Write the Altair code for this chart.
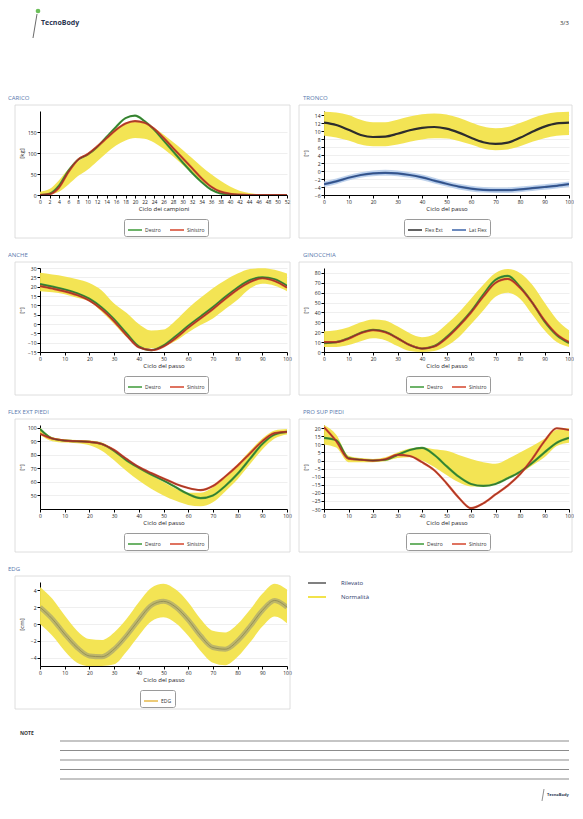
import altair as alt
import pandas as pd

FONT = "Open Sans"
YELLOW = "#f2e34b"
TITLE_COLOR = "#5878ad"
GREEN = "#3d9a37"
RED = "#d5452b"

# ---------------- data ----------------
CARICO_X = list(range(0, 53, 2))
CARICO_DESTRO = [0, 3, 22, 58, 84, 96, 114, 138, 162, 183, 189, 176, 156, 130, 104, 78, 53, 31, 13, 4, 1, 0, 0, 0, 0, 0, 0]
CARICO_SINISTRO = [0, 2, 18, 55, 84, 97, 115, 135, 155, 170, 176, 172, 158, 136, 112, 88, 64, 40, 20, 8, 3, 1, 0, 0, 0, 0, 0]
CARICO_LO = [0, 2, 8, 25, 45, 60, 80, 100, 118, 130, 136, 134, 125, 110, 92, 72, 52, 33, 18, 8, 3, 0, 0, 0, 0, 0, 0]
CARICO_HI = [8, 14, 35, 62, 80, 95, 115, 138, 158, 170, 176, 172, 160, 144, 126, 108, 88, 68, 50, 34, 20, 10, 5, 2, 0, 0, 0]

X100 = list(range(0, 101, 5))

TRONCO_FLEX = [12.1, 11.5, 10.3, 9.0, 8.5, 8.6, 9.3, 10.2, 10.8, 11.0, 10.6, 9.6, 8.3, 7.2, 6.8, 7.1, 8.3, 9.8, 11.1, 11.9, 12.1]
TRONCO_FLEX_LO = [8.8, 8.4, 7.6, 6.6, 6.2, 6.2, 6.6, 7.3, 7.9, 8.2, 8.1, 7.5, 6.6, 5.6, 5.2, 5.4, 6.2, 7.3, 8.2, 8.8, 9.0]
TRONCO_FLEX_HI = [14.8, 14.6, 14.0, 12.8, 12.2, 12.2, 12.8, 13.6, 14.2, 14.4, 14.1, 13.3, 12.1, 11.1, 10.7, 11.0, 12.0, 13.2, 14.2, 14.7, 14.8]
TRONCO_LAT = [-3.3, -2.6, -1.7, -1.0, -0.6, -0.45, -0.6, -1.0, -1.6, -2.4, -3.2, -3.9, -4.4, -4.7, -4.8, -4.8, -4.6, -4.3, -4.0, -3.7, -3.3]
TRONCO_LAT_LO = [-4.0, -3.3, -2.4, -1.7, -1.3, -1.2, -1.3, -1.7, -2.3, -3.1, -3.9, -4.6, -5.1, -5.4, -5.5, -5.5, -5.3, -5.0, -4.7, -4.4, -4.0]
TRONCO_LAT_HI = [-2.6, -1.9, -1.0, -0.3, 0.1, 0.3, 0.1, -0.3, -0.9, -1.7, -2.5, -3.2, -3.7, -4.0, -4.1, -4.1, -3.9, -3.6, -3.3, -3.0, -2.6]

ANCHE_DESTRO = [21.4, 20, 18.5, 16.5, 13.5, 8.8, 2.5, -5, -12, -14, -11.5, -6.5, -1, 4, 9, 14.5, 19.5, 23.5, 25, 24, 20.5]
ANCHE_SINISTRO = [20.3, 19, 17.5, 15.5, 12.5, 7.8, 1.5, -6, -12.5, -14, -12, -7.5, -2, 3, 8, 13.5, 18.5, 22.5, 24.5, 23, 19.5]
ANCHE_LO = [17.6, 17, 16, 14, 12, 6.5, 0, -7, -12, -13, -12, -9, -4.5, -0.5, 3, 8, 13, 19, 21.5, 20.5, 17.6]
ANCHE_HI = [27.4, 26.5, 25.5, 24, 22, 18, 11, 6, 0, -3.5, -3, 2, 8.5, 14, 19.2, 23.5, 27, 29.5, 29.8, 29, 27]

GINO_DESTRO = [9, 10, 14, 19.5, 22.5, 20.5, 14, 7, 3.5, 6, 15, 27, 41, 58, 73, 77, 66, 50, 31, 17, 9]
GINO_SINISTRO = [10, 10, 13.5, 19, 22, 20, 14, 7, 3.5, 5.5, 14, 26, 40, 56, 70, 74, 65, 50, 32, 18, 10]
GINO_LO = [5, 5, 7, 11, 14, 12, 6, 1, 0, 1, 6, 15, 28, 42, 56, 60, 54, 38, 22, 10, 5]
GINO_HI = [21, 22, 25, 30, 33, 32, 26, 19, 15, 18, 28, 40, 54, 68, 80, 84, 80, 68, 50, 33, 22]

FLEX_DESTRO = [99, 92, 90.5, 90, 89.5, 88, 83, 76, 70.5, 65.5, 61, 56, 51, 48, 50, 57, 66, 77, 88, 95, 97]
FLEX_SINISTRO = [95.5, 92, 90.5, 90, 89.5, 88, 83.5, 77, 71, 66.5, 62.5, 58.5, 55.5, 54, 57, 64, 72, 81, 90, 96, 97]
FLEX_LO = [95, 90, 89, 88.5, 87, 83, 76, 68, 61, 55, 50, 46, 43, 42, 45, 53, 62, 73, 84, 92, 95]
FLEX_HI = [100, 93, 91.5, 91, 90.5, 89, 84, 77, 71, 65, 60, 55, 52, 52, 56, 64, 73, 83, 92, 98, 99]

PRO_DESTRO = [14, 12.5, 1.5, 0.5, 0, 0.5, 3.5, 6.5, 7.8, 3.5, -3.5, -10, -14.5, -15.7, -14.5, -11, -7, -1.5, 5, 11, 14]
PRO_SINISTRO = [20.6, 12, 1.2, 0.5, 0, 0.8, 3.5, 2.8, -1, -6, -14, -23, -29.5, -26.5, -21, -15.5, -8.5, 1, 12, 20, 18.9]
PRO_LO = [10, 8, -1, -1, -1, -0.5, 1.5, 2, 0, -4, -9, -13.5, -16, -16, -14, -11, -8, -3, 2, 9, 11]
PRO_HI = [22, 16, 3, 1.5, 1, 2, 5, 7.5, 8, 7, 6, 3.5, 1, -1, -2, 1, 5, 9, 13.5, 19, 20]

EDG = [2.0, 0.6, -1.2, -2.8, -3.8, -3.9, -3.0, -1.4, 0.5, 2.2, 2.7, 2.0, 0.5, -1.4, -2.8, -3.0, -2.0, -0.3, 1.6, 2.8, 2.0]
EDG_LO = [0.0, -1.4, -3.2, -4.6, -5.0, -5.0, -4.8, -3.3, -1.4, 0.3, 0.8, 0.1, -1.4, -3.2, -4.6, -4.9, -3.9, -2.2, -0.3, 0.9, 0.1]
EDG_HI = [4.4, 3.0, 1.0, -0.8, -1.8, -1.9, -1.0, 0.6, 2.6, 4.3, 4.8, 4.1, 2.6, 0.6, -0.8, -1.0, 0.0, 1.7, 3.6, 4.8, 4.1]

LEGENDA_NOMI = ["Rilevato", "Normalità"]
LEGENDA_COLORI = ["#808080", YELLOW]
NOTE_RIGHE = [1, 2, 3, 4, 5]

LEFT_W, RIGHT_W, H = 247, 245, 84
one = pd.DataFrame({"k": [0]})


def header_layers():
    # page header (logo + page number), drawn above the first panel
    return [
        alt.Chart(one).mark_rule(color="#444", strokeWidth=0.8).encode(
            x=alt.value(-3), x2=alt.value(-7), y=alt.value(-97), y2=alt.value(-73)),
        alt.Chart(one).mark_point(filled=True, color="#6cbf5a", size=22, opacity=1).encode(
            x=alt.value(-2), y=alt.value(-100)),
        alt.Chart(one).mark_text(text="TecnoBody", align="left", baseline="middle", fontSize=7,
                                 fontWeight="bold", color="#2a3550", font=FONT).encode(
            x=alt.value(1), y=alt.value(-88)),
        alt.Chart(one).mark_text(text="3/3", align="right", baseline="middle", fontSize=6,
                                 color="#333", font=FONT).encode(x=alt.value(529), y=alt.value(-88)),
    ]


def panel(title, xs, series, bands, ydom, yvals, ytitle, xdom, xvals, width,
          title_dx, legend_x, xtitle="Ciclo del passo", edg=None, extra=None):
    xaxis = alt.Axis(values=xvals, title=xtitle, grid=False, labelFlush=False,
                     labelAngle=0, labelPadding=1, titlePadding=1, tickSize=3)
    yaxis = alt.Axis(values=yvals, title=ytitle, grid=True, minExtent=13,
                     maxExtent=13, titlePadding=3, labelPadding=1, tickSize=3)
    xsc = alt.Scale(domain=xdom, nice=False, zero=False)
    ysc = alt.Scale(domain=ydom, nice=False, zero=False)

    layers = [
        alt.Chart(one).mark_rect(
            fill="white", fillOpacity=0, stroke="#d6d6d6", strokeWidth=0.8
        ).encode(x=alt.value(-25), x2=alt.value(width + 3),
                 y=alt.value(-6), y2=alt.value(127)),
        alt.Chart(one).mark_text(text=title, align="left", baseline="middle", fontSize=6,
                                 color=TITLE_COLOR, font=FONT).encode(
            x=alt.value(title_dx), y=alt.value(-13)),
    ]
    for lo, hi, col in bands:
        bdf = pd.DataFrame({"x": xs, "lo": lo, "hi": hi})
        layers.append(
            alt.Chart(bdf).mark_area(color=col, opacity=0.95, interpolate="monotone", clip=True)
            .encode(x=alt.X("x:Q", scale=xsc, axis=xaxis),
                    y=alt.Y("lo:Q", scale=ysc, axis=yaxis), y2="hi:Q")
        )
    rows = []
    for name, vals, col in series:
        for xv, v in zip(xs, vals):
            rows.append({"x": xv, "v": v, "serie": name})
    ldf = pd.DataFrame(rows)
    names = [s[0] for s in series]
    colors = [s[2] for s in series]
    legend = alt.Legend(orient="none", legendX=legend_x, legendY=108, direction="horizontal",
                        title=None, symbolType="stroke", symbolSize=196, symbolStrokeWidth=1.5,
                        labelFontSize=5, labelFont=FONT, labelColor="#333", strokeColor="#9a9a9a",
                        padding=3, cornerRadius=2, fillColor="white", columnPadding=6,
                        labelOffset=2, symbolOpacity=1)
    if edg is None:
        layers.append(
            alt.Chart(ldf).mark_line(strokeWidth=2.2, interpolate="monotone", clip=True)
            .encode(x=alt.X("x:Q", scale=xsc, axis=xaxis),
                    y=alt.Y("v:Q", scale=ysc, axis=yaxis),
                    color=alt.Color("serie:N", scale=alt.Scale(domain=names, range=colors),
                                    legend=legend))
        )
        layers.append(
            alt.Chart(ldf).mark_line(strokeWidth=0.6, color="#2b2b2b", opacity=0.6,
                                     interpolate="monotone", clip=True)
            .encode(x=alt.X("x:Q", scale=xsc, axis=xaxis),
                    y=alt.Y("v:Q", scale=ysc, axis=yaxis), detail="serie:N")
        )
    else:
        layers.append(
            alt.Chart(ldf).mark_line(strokeWidth=5, color="#8f8f7a", opacity=0.55,
                                     interpolate="monotone", clip=True)
            .encode(x=alt.X("x:Q", scale=xsc, axis=xaxis),
                    y=alt.Y("v:Q", scale=ysc, axis=yaxis))
        )
        layers.append(
            alt.Chart(ldf).mark_line(strokeWidth=1, color="#8a8656", opacity=0.8,
                                     interpolate="monotone", clip=True)
            .encode(x=alt.X("x:Q", scale=xsc, axis=xaxis),
                    y=alt.Y("v:Q", scale=ysc, axis=yaxis))
        )
        layers.append(
            alt.Chart(ldf).mark_line(opacity=0, interpolate="monotone", clip=True)
            .encode(x=alt.X("x:Q", scale=xsc, axis=xaxis),
                    y=alt.Y("v:Q", scale=ysc, axis=yaxis),
                    color=alt.Color("serie:N", scale=alt.Scale(domain=names, range=[edg]),
                                    legend=legend))
        )
    if extra:
        layers.extend(extra)
    return alt.layer(*layers).properties(width=width, height=H)


carico = panel("CARICO", CARICO_X,
               [("Destro", CARICO_DESTRO, GREEN), ("Sinistro", CARICO_SINISTRO, RED)],
               [(CARICO_LO, CARICO_HI, YELLOW)],
               [0, 200], [0, 50, 100, 150], "[kg]", [0, 52], CARICO_X, LEFT_W, -32, 84,
               xtitle="Ciclo dei campioni", extra=header_layers())
tronco = panel("TRONCO", X100,
               [("Flex Ext", TRONCO_FLEX, "#2e2e2e"), ("Lat Flex", TRONCO_LAT, "#3b63a8")],
               [(TRONCO_FLEX_LO, TRONCO_FLEX_HI, YELLOW), (TRONCO_LAT_LO, TRONCO_LAT_HI, "#bcd0ea")],
               [-6, 15], list(range(-6, 15, 2)), "[°]", [0, 100], list(range(0, 101, 10)),
               RIGHT_W, -21, 80)
anche = panel("ANCHE", X100,
              [("Destro", ANCHE_DESTRO, GREEN), ("Sinistro", ANCHE_SINISTRO, RED)],
              [(ANCHE_LO, ANCHE_HI, YELLOW)],
              [-15, 30], list(range(-15, 31, 5)), "[°]", [0, 100], list(range(0, 101, 10)),
              LEFT_W, -32, 84)
gino = panel("GINOCCHIA", X100,
             [("Destro", GINO_DESTRO, GREEN), ("Sinistro", GINO_SINISTRO, RED)],
             [(GINO_LO, GINO_HI, YELLOW)],
             [0, 85], list(range(0, 81, 10)), "[°]", [0, 100], list(range(0, 101, 10)),
             RIGHT_W, -21, 82)
flex = panel("FLEX EXT PIEDI", X100,
             [("Destro", FLEX_DESTRO, GREEN), ("Sinistro", FLEX_SINISTRO, RED)],
             [(FLEX_LO, FLEX_HI, YELLOW)],
             [40, 102], list(range(50, 101, 10)), "[°]", [0, 100], list(range(0, 101, 10)),
             LEFT_W, -32, 84)
prosup = panel("PRO SUP PIEDI", X100,
               [("Destro", PRO_DESTRO, GREEN), ("Sinistro", PRO_SINISTRO, RED)],
               [(PRO_LO, PRO_HI, YELLOW)],
               [-30, 22], list(range(-30, 21, 5)), "[°]", [0, 100], list(range(0, 101, 10)),
               RIGHT_W, -21, 82)
edg = panel("EDG", X100, [("EDG", EDG, "#999")], [(EDG_LO, EDG_HI, YELLOW)],
            [-5, 5], [-4, -2, 0, 2, 4], "[cm]", [0, 100], list(range(0, 101, 10)),
            LEFT_W, -32, 100, edg="#e6b84a")

legenda = alt.Chart(pd.DataFrame({"k": LEGENDA_NOMI})).mark_rule(opacity=0).encode(
    x=alt.value(0), y=alt.value(0),
    color=alt.Color("k:N", scale=alt.Scale(domain=LEGENDA_NOMI, range=LEGENDA_COLORI),
                    legend=alt.Legend(orient="none", legendX=-17, legendY=-9, direction="vertical",
                                      title=None, symbolType="stroke", symbolSize=324,
                                      symbolStrokeWidth=2, symbolOpacity=1, labelFontSize=6,
                                      labelFont=FONT, labelColor="#2d3b6b", labelOffset=14,
                                      rowPadding=0, padding=0)),
).properties(width=RIGHT_W, height=H)

notes = alt.layer(
    alt.Chart(pd.DataFrame({"riga": NOTE_RIGHE})).mark_rule(color="#8c8c8c", strokeWidth=1.2).encode(
        y=alt.Y("riga:O", axis=None, scale=alt.Scale(type="point", padding=0.21)),
        x=alt.value(20), x2=alt.value(529)),
    alt.Chart(one).mark_text(text="NOTE", align="left", baseline="middle", fontSize=5,
                             fontWeight="bold", color="#333", font=FONT).encode(
        x=alt.value(-20), y=alt.value(-6)),
    alt.Chart(one).mark_text(text="TecnoBody", align="left", baseline="middle", fontSize=4,
                             fontWeight="bold", color="#2a3550", font=FONT).encode(
        x=alt.value(507), y=alt.value(56)),
    alt.Chart(one).mark_rule(color="#444", strokeWidth=0.6).encode(
        x=alt.value(504), x2=alt.value(502), y=alt.value(50), y2=alt.value(62)),
).properties(width=LEFT_W, height=42)

vuoto = alt.Chart(one).mark_point(opacity=0, size=1).encode(
    x=alt.value(0), y=alt.value(0)).properties(width=RIGHT_W, height=42)

chart = alt.concat(
    carico, tronco,
    anche, gino,
    flex, prosup,
    edg, legenda,
    notes, vuoto,
    columns=2, spacing={"row": 73, "column": 37}, bounds="flush",
).resolve_scale(color="independent").properties(
    padding={"left": 0, "top": 0, "right": 0, "bottom": 0}
).configure_view(stroke=None).configure_axis(
    labelFontSize=5, titleFontSize=6, labelFont=FONT, titleFont=FONT,
    domainColor="#000", tickColor="#000", labelColor="#222", titleColor="#222",
    gridColor="#e4e4e4", gridWidth=0.6, titleFontWeight="normal", domainWidth=1
)

chart.save("out.html", embed_options={"renderer": "svg", "actions": False})
